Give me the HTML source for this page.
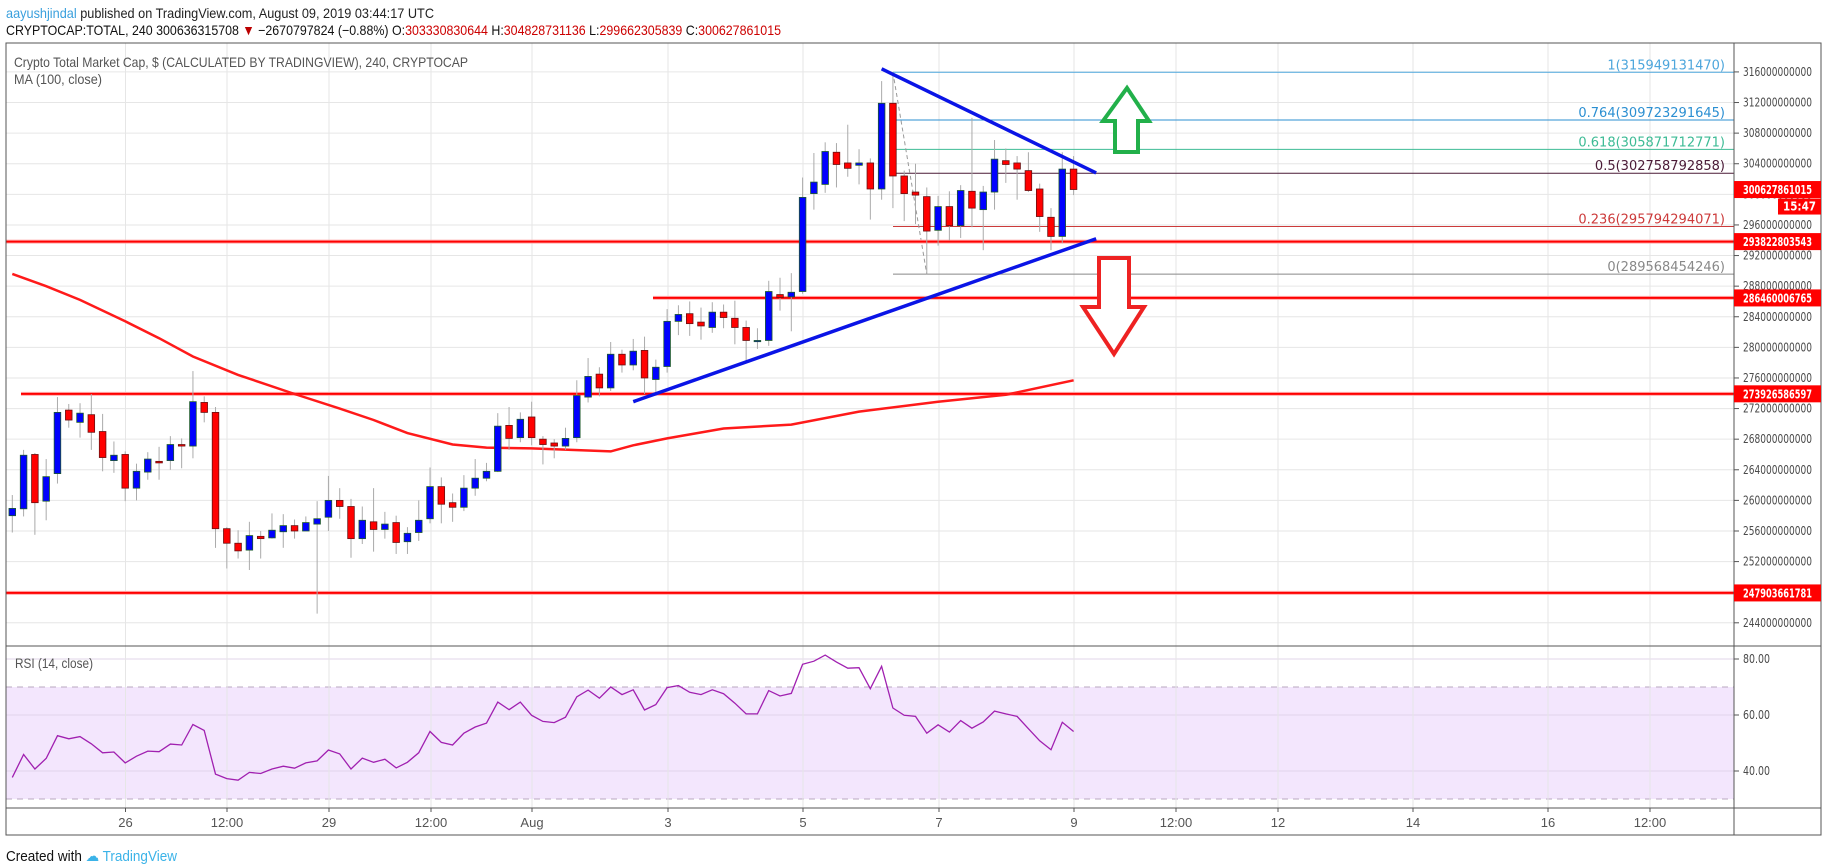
<!DOCTYPE html>
<html><head><meta charset="utf-8"><style>
html,body{margin:0;padding:0;background:#fff;}
svg{display:block;font-family:"Liberation Sans",sans-serif;}
</style></head><body>
<svg id="chart" width="1828" height="868" viewBox="0 0 1828 868" xmlns="http://www.w3.org/2000/svg">
<text x="6" y="18" font-size="14" textLength="428" lengthAdjust="spacingAndGlyphs" fill="#222"><tspan fill="#3aa0dd">aayushjindal</tspan> published on TradingView.com, August 09, 2019 03:44:17 UTC</text>
<text x="6" y="35" font-size="14" textLength="775" lengthAdjust="spacingAndGlyphs" fill="#111">CRYPTOCAP:TOTAL, 240  300636315708 <tspan fill="#b00">▼</tspan> −2670797824 (−0.88%) O:<tspan fill="#c00">303330830644</tspan> H:<tspan fill="#c00">304828731136</tspan> L:<tspan fill="#c00">299662305839</tspan> C:<tspan fill="#c00">300627861015</tspan></text>
<g id="grid"></g>
<g id="plot"></g>
<g id="frame"></g>
<text x="6" y="861" font-size="15" textLength="171" lengthAdjust="spacingAndGlyphs" fill="#111">Created with <tspan fill="#3bb3e8">☁ TradingView</tspan></text>
</svg>
<script>
const opens=[258.0,258.9,266.0,259.9,263.5,271.8,270.2,271.2,269.0,265.2,266.0,261.6,263.7,265.1,265.2,267.3,267.1,272.8,271.5,256.3,254.4,253.5,255.3,255.1,255.9,256.7,256.0,256.9,257.8,260.0,259.2,255.0,257.2,256.2,257.1,254.6,255.8,257.6,261.8,259.7,259.1,261.6,262.9,263.8,269.8,268.2,270.9,268.0,267.5,267.1,268.2,273.5,276.5,274.7,279.1,277.7,279.6,275.8,277.5,283.4,284.4,283.3,282.6,284.6,283.8,282.6,280.9,280.9,286.9,286.6,287.3,300.1,301.3,305.5,304.1,303.8,304.1,300.7,311.9,302.4,300.3,299.7,295.3,298.4,295.9,300.4,298.0,300.3,304.4,304.1,303.1,300.7,297.0,294.5,303.3];
const highs=[260.7,266.6,266.2,265.4,273.5,272.6,272.7,273.9,271.3,267.7,266.4,264.8,266.3,267.0,268.4,268.1,276.9,273.6,272.2,256.5,256.1,257.2,256.0,258.3,258.2,257.5,257.9,259.9,263.2,261.6,260.2,259.2,261.6,258.5,258.0,256.5,260.0,264.3,263.0,260.9,263.3,265.4,264.9,271.4,272.2,271.5,272.9,268.4,268.0,269.5,275.7,278.6,277.4,280.7,279.7,281.1,281.4,278.4,285.0,285.5,286.0,285.2,285.9,285.6,286.1,283.5,282.5,288.7,289.1,289.7,302.2,305.4,306.8,306.7,309.1,305.9,304.7,314.8,315.95,303.1,304.0,300.9,299.8,300.4,301.2,310.0,301.1,307.1,306.0,305.0,305.5,301.4,298.2,305.5,305.0];
const lows=[255.8,257.9,255.5,257.4,262.2,269.5,268.2,266.6,263.8,263.6,259.9,260.0,262.7,262.7,264.0,264.2,265.5,270.2,253.8,251.1,252.4,250.9,252.4,255.0,253.8,255.0,256.0,245.2,256.0,257.6,252.5,254.3,253.3,255.0,253.0,253.0,254.7,257.0,257.0,257.2,258.6,260.6,262.5,263.7,266.6,267.6,267.2,264.7,265.5,266.6,267.6,272.8,273.6,274.3,276.7,277.0,273.9,273.8,276.7,281.6,281.5,281.0,281.9,282.5,280.4,278.0,279.8,280.2,284.8,282.1,287.0,298.0,300.2,300.9,302.3,301.3,296.7,299.3,298.2,296.5,296.1,289.57,293.3,294.0,294.3,295.7,292.7,298.0,301.5,299.3,300.3,295.1,292.7,293.6,299.9];
const closes=[258.95,265.9,259.7,263.1,271.5,270.5,271.4,268.9,265.6,265.9,261.6,263.8,265.4,264.9,267.3,267.1,272.9,271.5,256.3,254.4,253.4,255.4,255.0,256.1,256.7,256.0,257.1,257.6,260.0,259.2,255.0,257.4,256.2,256.9,254.5,255.7,257.4,261.8,259.5,259.1,261.6,262.9,263.8,269.7,268.1,270.6,268.2,267.3,267.1,268.1,273.7,276.2,274.7,279.1,277.7,279.5,276.0,277.4,283.4,284.3,283.1,282.8,284.6,283.9,282.6,280.9,280.9,287.3,286.5,287.2,299.6,301.6,305.6,303.9,303.4,304.1,300.7,311.9,302.4,300.1,299.9,295.2,298.4,295.9,300.5,298.2,300.3,304.6,303.9,303.3,300.5,297.1,294.5,303.3,300.63];
const maIdx=[0,3,6,10,13,16,20,25,29,32,35,39,42,46,53,55,58,63,69,75,82,88,94];
const maVal=[289.6,288.0,286.2,283.4,281.2,278.8,276.4,273.9,272.0,270.5,268.8,267.3,266.9,266.8,266.4,267.2,268.1,269.4,269.9,271.6,272.9,273.8,275.7];
const rsi=[37.7,45.9,40.7,44.5,52.6,51.5,52.3,49.7,46.5,46.8,42.9,45.3,47.1,46.9,49.6,49.3,56.6,54.5,38.9,37.3,36.7,39.5,39.1,40.7,41.7,41.0,42.9,43.6,47.5,46.1,40.7,44.6,43.1,44.2,41.1,43.1,46.5,54.1,50.2,49.3,53.5,55.7,57.1,64.6,61.9,64.6,59.9,57.7,57.3,59.2,66.5,68.9,66.0,70.0,67.3,69.0,61.8,63.7,69.8,70.5,68.1,67.3,69.0,67.6,64.2,60.4,60.4,68.7,66.8,67.7,78.1,79.2,81.4,78.9,76.7,76.9,69.4,77.4,62.5,59.9,59.5,53.5,56.5,53.9,58.0,55.3,57.5,61.4,60.4,59.5,55.1,50.8,47.6,57.4,54.1];
const yTicks=[244,248,252,256,260,264,268,272,276,280,284,288,292,296,300,304,308,312,316];
const rsiTicks=[80,60,40];
const xLabels=["26","12:00","29","12:00","Aug","3","5","7","9","12:00","12","14","16","12:00"];
const xLabelPos=[125.5,227,329,431,532,668,803,939,1074,1176,1278,1413,1548,1650];
const hLevels=[293.822803543,286.460006765,273.926586597,247.903661781];
const hLevelStart=[6,653,21,6];
const fibLevels=[315.949131470,309.723291645,305.871712771,302.758792858,295.794294071,289.568454246];
const fibNames=["1","0.764","0.618","0.5","0.236","0"];
const fibColors=["#4da6dc","#2b8fd2","#3dbb95","#4a1a36","#cc3a3a","#888888"];
const lastPrice=300.627861015;

const NS="http://www.w3.org/2000/svg";
const L=6,R=1734,RO=1821,TOP=43,MB=646,RB=808,XB=835;
const xs=i=>12.3+i*11.29;
const ys=v=>(325.4-v)/0.1307;
const yr=r=>687+(70-r)*2.8;
function mk(tag,attrs,parent){const e=document.createElementNS(NS,tag);for(const k in attrs)e.setAttribute(k,attrs[k]);parent.appendChild(e);return e;}
const grid=document.getElementById('grid'),plot=document.getElementById('plot'),frame=document.getElementById('frame');

let band=mk('rect',{x:L,y:yr(70),width:R-L,height:yr(30)-yr(70),fill:'#f3e6fd'},grid);


yTicks.forEach(t=>{const y=ys(t);let g=mk('line',{x1:L,x2:R,y1:y,y2:y,stroke:'#e6e6e6','stroke-width':1},grid);


let tk=mk('line',{x1:R,x2:R+5,y1:y,y2:y,stroke:'#555'},frame);


let tx=mk('text',{x:1743,y:y+4,'font-size':12,fill:'#4a4a4a',textLength:69,lengthAdjust:'spacingAndGlyphs','font-family':'DejaVu Sans, sans-serif'},frame);
tx.textContent=t+'000000000';

});
rsiTicks.forEach(t=>{const y=yr(t);let g=mk('line',{x1:L,x2:R,y1:y,y2:y,stroke:'#e0d4ea'},grid);


let tk=mk('line',{x1:R,x2:R+5,y1:y,y2:y,stroke:'#555'},frame);


let tx=mk('text',{x:1743,y:y+4,'font-size':12,fill:'#4a4a4a',textLength:27,lengthAdjust:'spacingAndGlyphs','font-family':'DejaVu Sans, sans-serif'},frame);
tx.textContent=t.toFixed(2);

});
[70,30].forEach(t=>{let d=mk('line',{x1:L,x2:R,y1:yr(t),y2:yr(t),stroke:'#b8a8c0','stroke-dasharray':'6,5'},grid);

});
xLabelPos.forEach((x,i)=>{let g=mk('line',{x1:x,x2:x,y1:TOP,y2:RB,stroke:'#e6e6e6'},grid);


let tk=mk('line',{x1:x,x2:x,y1:RB,y2:RB+4,stroke:'#555'},frame);


let tx=mk('text',{x:x,y:827,'font-size':13,fill:'#555','text-anchor':'middle'},frame);
tx.textContent=xLabels[i];

});

const fx0=893;
fibLevels.forEach((v,i)=>{const y=ys(v);let l=mk('line',{x1:fx0,x2:R,y1:y,y2:y,stroke:fibColors[i],'stroke-width':1},plot);


let t=mk('text',{x:1725,y:y-3,'font-size':13,fill:fibColors[i],'text-anchor':'end','font-family':'DejaVu Sans, sans-serif'},plot);
t.textContent=fibNames[i]+'('+Math.round(v*1e9)+')';

});
let fd=mk('line',{x1:xs(78),y1:ys(315.95),x2:xs(81),y2:ys(289.57),stroke:'#999','stroke-dasharray':'4,3'},plot);



hLevels.forEach((v,i)=>{const y=ys(v);let g=mk('line',{x1:hLevelStart[i],x2:R,y1:y,y2:y,stroke:'#ffb0b0','stroke-width':4},plot);


let l=mk('line',{x1:hLevelStart[i],x2:R,y1:y,y2:y,stroke:'#ff0000','stroke-width':2},plot);

});

let maD='';maIdx.forEach((k,i)=>{maD+=(i?'L':'M')+xs(k).toFixed(1)+','+ys(maVal[i]).toFixed(1);});
let ma=mk('path',{d:maD,fill:'none',stroke:'#ff1a1a','stroke-width':2.5},plot);



opens.forEach((o,i)=>{const c=closes[i],x=xs(i),up=c>=o;
let w=mk('line',{x1:x,x2:x,y1:ys(highs[i]),y2:ys(lows[i]),stroke:'#aaa','stroke-width':1},plot);


const yt=ys(Math.max(o,c)),yb=ys(Math.min(o,c));
let b=mk('rect',{x:x-3.3,y:yt,width:6.6,height:Math.max(1.2,yb-yt),fill:up?'#0000ff':'#ff0000',stroke:up?'#1d5a2a':'#6a1010','stroke-width':0.8},plot);

});

let tu=mk('line',{x1:xs(77),y1:ys(316.4),x2:xs(96),y2:ys(302.8),stroke:'#0a14e6','stroke-width':3.5},plot);


let tl=mk('line',{x1:xs(55),y1:ys(272.9),x2:xs(96),y2:ys(294.2),stroke:'#0a14e6','stroke-width':3.5},plot);



let ga=mk('polygon',{points:'1127,88 1149,121 1138,121 1138,152 1115,152 1115,121 1103,121',fill:'#fff',stroke:'#22b04a','stroke-width':4,'stroke-linejoin':'miter'},plot);


let ra=mk('polygon',{points:'1099,258 1129,258 1129,307 1144,307 1114,354 1083,307 1099,307',fill:'#fff',stroke:'#ee2222','stroke-width':4},plot);



let rD='';rsi.forEach((r,i)=>{rD+=(i?'L':'M')+xs(i).toFixed(1)+','+yr(r).toFixed(1);});
let rl=mk('path',{d:rD,fill:'none',stroke:'#a020b0','stroke-width':1.3},plot);



let fr=mk('rect',{x:L,y:TOP,width:RO-L,height:XB-TOP,fill:'none',stroke:'#555'},frame);


[[R,TOP,R,XB],[L,MB,RO,MB],[L,RB,RO,RB]].forEach(a=>{let l=mk('line',{x1:a[0],y1:a[1],x2:a[2],y2:a[3],stroke:'#555'},frame);

});

function box(v,txt,name){const y=ys(v);let r=mk('rect',{x:R,y:y-8.5,width:RO-R,height:17,fill:'#ff0000'},frame);


let t=mk('text',{x:1743,y:y+4.5,'font-size':12,'font-weight':'bold',fill:'#fff',textLength:69,lengthAdjust:'spacingAndGlyphs','font-family':'DejaVu Sans, sans-serif'},frame);
t.textContent=txt;

}
hLevels.forEach(v=>box(v,String(Math.round(v*1e9)),'level-price-box'));
box(lastPrice,'300627861015','last-price-box');
let cd=mk('rect',{x:1778,y:ys(lastPrice)+9,width:43,height:16,fill:'#ff0000'},frame);


let ct=mk('text',{x:1783,y:ys(lastPrice)+21,'font-size':12,'font-weight':'bold',fill:'#fff',textLength:33,lengthAdjust:'spacingAndGlyphs','font-family':'DejaVu Sans, sans-serif'},frame);
ct.textContent='15:47';



let t1=mk('text',{x:14,y:67,'font-size':14,fill:'#555',textLength:454,lengthAdjust:'spacingAndGlyphs'},frame);
t1.textContent='Crypto Total Market Cap, $ (CALCULATED BY TRADINGVIEW), 240, CRYPTOCAP';


let t2=mk('text',{x:14,y:84,'font-size':14,fill:'#555',textLength:88,lengthAdjust:'spacingAndGlyphs'},frame);
t2.textContent='MA (100, close)';


let t3=mk('text',{x:15,y:668,'font-size':14,fill:'#555',textLength:78,lengthAdjust:'spacingAndGlyphs'},frame);
t3.textContent='RSI (14, close)';


</script>
</body></html>
